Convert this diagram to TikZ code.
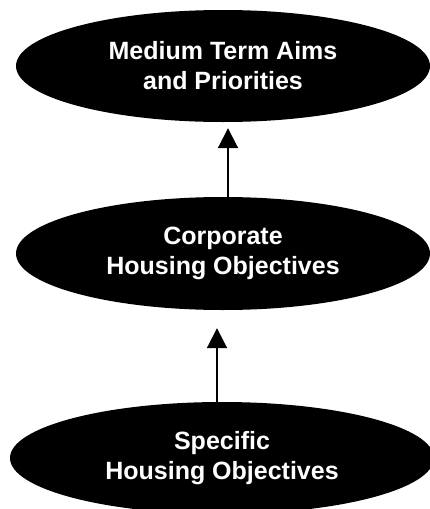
\documentclass[tikz,border=0pt]{standalone}
\usepackage{fontspec}
\setmainfont{Liberation Sans}
\usetikzlibrary{shapes.geometric,arrows.meta}

\begin{document}
\begin{tikzpicture}[x=1pt,y=-1pt,
  level/.style={ellipse,fill=black,text=white,inner sep=0pt,align=center,
    font=\fontsize{25}{30}\selectfont\bfseries},
  up/.style={line width=2pt,-{Triangle[length=20pt,width=20pt]}}]

\useasboundingbox (0,0) rectangle (430,509);

% the three levels
\node[level,minimum width=414pt,minimum height=112pt] (aims) at (223,66) {Medium Term Aims\\and Priorities};
\node[level,minimum width=414pt,minimum height=113pt] (corp) at (223,253.5) {Corporate\\Housing Objectives};
\node[level,minimum width=424pt,minimum height=112pt] (spec) at (222,458) {Specific\\Housing Objectives};

% arrows between them
\coordinate (up1) at (228,0);
\coordinate (up2) at (217,0);
\draw[up] (up1 |- corp.north) -- ([yshift=-6pt]up1 |- aims.south);
\draw[up] (up2 |- spec.north) -- ([yshift=-18pt]up2 |- corp.south);

\end{tikzpicture}
\end{document}
